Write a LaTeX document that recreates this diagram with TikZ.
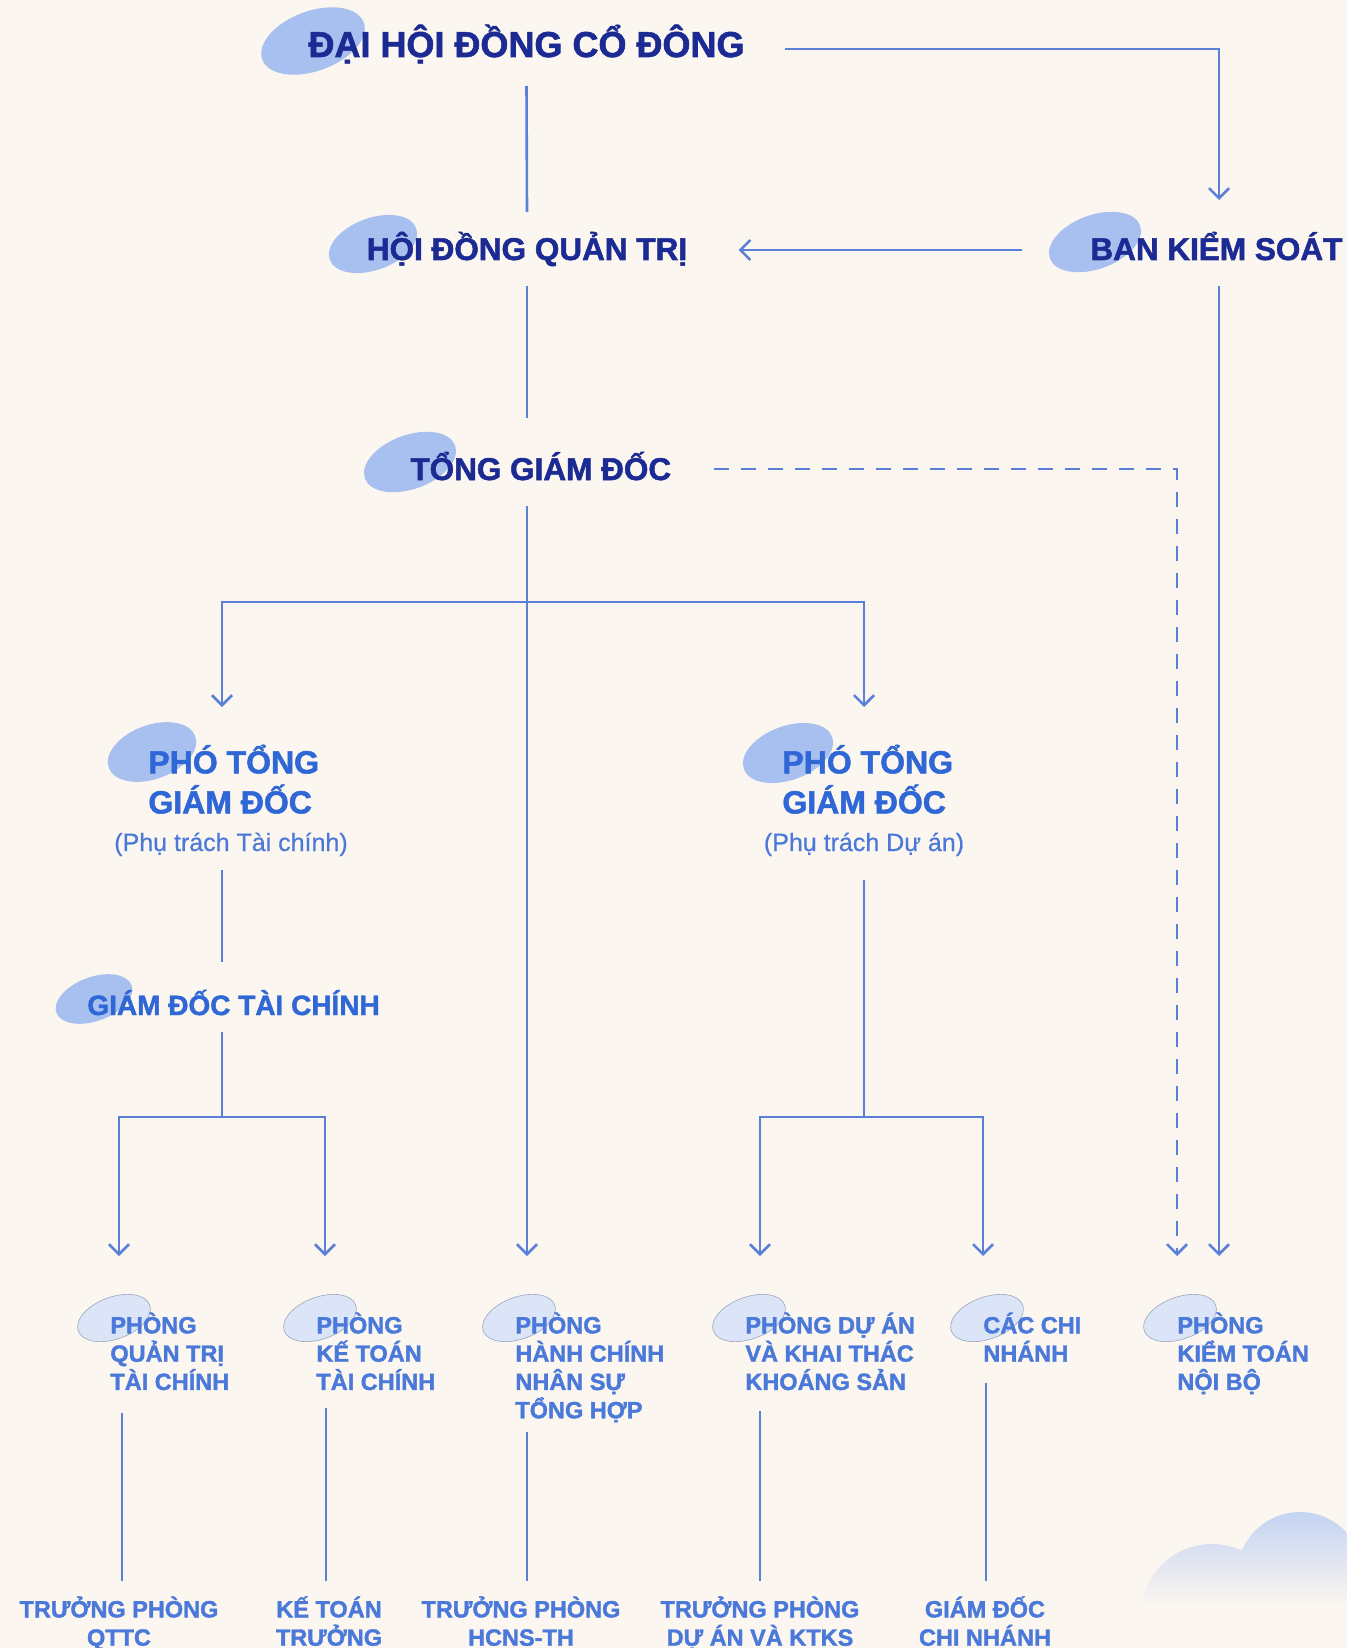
\documentclass[tikz,border=0pt]{standalone}
\usepackage{fontspec}
\setmainfont{Liberation Sans}[UprightFeatures={FakeBold=0.5},BoldFeatures={FakeBold=1.6}]
\usetikzlibrary{arrows.meta,calc}
\definecolor{bg}{HTML}{FCF6F0}
\definecolor{navy}{HTML}{1B2B93}
\definecolor{blueA}{HTML}{2F67D6}
\definecolor{blueB}{HTML}{4A79DA}
\definecolor{lnc}{HTML}{5B80DA}
\definecolor{blobA}{HTML}{A8C0EF}
\definecolor{blobB}{HTML}{DCE5F7}
\definecolor{blobE}{HTML}{9AA6BD}
\definecolor{cloudc}{HTML}{C2D2F3}
\newcommand\topstrut{\rule{0pt}{1.05em}}
\begin{document}
\begin{tikzpicture}[x=0.5pt,y=-0.5pt,
  conn/.style={draw=lnc,line width=1.3pt},
  arr/.style={-{Straight Barb[length=5pt,width=10pt]}},
  dsh/.style={dash pattern=on 7.5pt off 6pt},
  txt/.style={inner sep=0pt},
  ttl/.style={txt,text=navy,font=\fontsize{18}{22}\selectfont\bfseries},
  lvl/.style={txt,text=navy,font=\fontsize{15.75}{19}\selectfont\bfseries},
  vp/.style={txt,text=blueA,align=left,font=\fontsize{16}{20}\selectfont\bfseries},
  note/.style={txt,text=blueB,font=\fontsize{12.5}{15}\selectfont},
  cfo/.style={txt,text=blueA,font=\fontsize{14}{17}\selectfont\bfseries},
  dept/.style={txt,text=blueB,align=left,font=\fontsize{11.75}{14.15}\selectfont\bfseries},
  head/.style={txt,text=blueB,align=center,font=\fontsize{11.75}{14.15}\selectfont\bfseries},
  blobbig/.style={fill=blobA},
  blobsm/.style={fill=blobB,draw=blobE,line width=0.3pt},
]
\useasboundingbox (0,0) rectangle (1347,1648);
\clip (0,0) rectangle (1347,1648);
\fill[bg] (0,0) rectangle (1347,1648);

% cloud
\begin{scope}
\clip (1212,1615) circle (71) (1300,1575) circle (63);
\shade[top color=cloudc, bottom color=bg] (1130,1508) rectangle (1347,1608);
\end{scope}

% blobs
\fill[blobbig,rotate around={20:(313,41)}] (313,41) ellipse [x radius=54, y radius=30];
\fill[blobbig,rotate around={20:(373,244)}] (373,244) ellipse [x radius=46, y radius=26];
\fill[blobbig,rotate around={20:(1095,242)}] (1095,242) ellipse [x radius=48, y radius=27];
\fill[blobbig,rotate around={20:(410,462)}] (410,462) ellipse [x radius=48, y radius=27];
\fill[blobbig,rotate around={20:(152,752)}] (152,752) ellipse [x radius=46, y radius=27];
\fill[blobbig,rotate around={20:(788,753)}] (788,753) ellipse [x radius=47, y radius=27];
\fill[blobbig,rotate around={20:(94,999)}] (94,999) ellipse [x radius=40, y radius=22];
\foreach \bx in {114,320,519,749,987,1180}
  \filldraw[blobsm,rotate around={20:(\bx,1318)}] (\bx,1318) ellipse [x radius=38, y radius=21];

% texts
\node[ttl,anchor=base] (dhd) at (526.5,57) {ĐẠI HỘI ĐỒNG CỔ ĐÔNG};
\node[lvl,anchor=base] (hdqt) at (527,260) {HỘI ĐỒNG QUẢN TRỊ};
\node[lvl,anchor=base west] (bks) at (1090,260) {BAN KIỂM SOÁT};
\node[lvl,anchor=base west] (tgd) at (410,480) {TỔNG GIÁM ĐỐC};
\node[vp,anchor=north west] (p1) at (148,739.4) {\topstrut PHÓ TỔNG\\GIÁM ĐỐC};
\node[note,anchor=base] (n1) at (231,851) {(Phụ trách Tài chính)};
\node[vp,anchor=north west] (p2) at (782,739.4) {\topstrut PHÓ TỔNG\\GIÁM ĐỐC};
\node[note,anchor=base] (n2) at (864,851) {(Phụ trách Dự án)};
\node[cfo,anchor=base west] (gdtc) at (87,1015) {GIÁM ĐỐC TÀI CHÍNH};

\node[dept,anchor=north west] (qttc) at (110,1308.3) {\topstrut PHÒNG\\QUẢN TRỊ\\TÀI CHÍNH};
\node[dept,anchor=north west] (kttc) at (316,1308.3) {\topstrut PHÒNG\\KẾ TOÁN\\TÀI CHÍNH};
\node[dept,anchor=north west] (hcns) at (515,1308.3) {\topstrut PHÒNG\\HÀNH CHÍNH\\NHÂN SỰ\\TỔNG HỢP};
\node[dept,anchor=north west] (da) at (745,1308.3) {\topstrut PHÒNG DỰ ÁN\\VÀ KHAI THÁC\\KHOÁNG SẢN};
\node[dept,anchor=north west] (cn) at (983,1308.3) {\topstrut CÁC CHI\\NHÁNH};
\node[dept,anchor=north west] (ktnb) at (1177,1308.3) {\topstrut PHÒNG\\KIỂM TOÁN\\NỘI BỘ};

\node[head,anchor=north] (h1) at (119,1592.3) {\topstrut TRƯỞNG PHÒNG\\QTTC};
\node[head,anchor=north] (h2) at (329,1592.3) {\topstrut KẾ TOÁN\\TRƯỞNG};
\node[head,anchor=north] (h3) at (521,1592.3) {\topstrut TRƯỞNG PHÒNG\\HCNS-TH};
\node[head,anchor=north] (h4) at (760,1592.3) {\topstrut TRƯỞNG PHÒNG\\DỰ ÁN VÀ KTKS};
\node[head,anchor=north] (h5) at (985,1592.3) {\topstrut GIÁM ĐỐC\\CHI NHÁNH};

% connectors
\draw[conn] ($(dhd.base)+(0,29)$) -- ($(hdqt.base)+(0,-48)$);
\draw[conn,arr] ($(dhd.base east)+(40,-8)$) -| ($(bks.base west)+(129,-60)$);
\draw[conn,arr] ($(bks.base west)+(-68,-10)$) -- ($(hdqt.base east)+(51,-10)$);
\draw[conn] ($(hdqt.base)+(0,26)$) -- ($(hdqt.base |- tgd.base)+(0,-62)$);
\draw[conn,dsh,arr] ($(tgd.base east)+(42,-11)$) -| ($(ktnb.north west)+(0,-52.3)$);
\draw[conn,arr] ($(bks.base west)+(129,26)$) -- ($(ktnb.north west)+(42,-52.3)$);
\draw[conn,arr] ($(hdqt.base |- tgd.base)+(0,26)$) -- ($(hcns.north west)+(12,-52.3)$);
\coordinate (br1) at ($(hdqt.base |- tgd.base)+(0,122)$);
\draw[conn,arr] (br1) -| ($(p1.north west)+(74,-32.4)$);
\draw[conn,arr] (br1) -| ($(p2.north west)+(82,-32.4)$);
\draw[conn] ($(n1.base)+(-9,19)$) -- ($(gdtc.base west)+(135,-53)$);
\coordinate (br2) at ($(gdtc.base west)+(135,102)$);
\draw[conn] ($(gdtc.base west)+(135,17)$) -- (br2);
\draw[conn,arr] (br2) -| ($(qttc.north west)+(9,-52.3)$);
\draw[conn,arr] (br2) -| ($(kttc.north west)+(9,-52.3)$);
\coordinate (br3) at ($(n2.base)+(0,266)$);
\draw[conn] ($(n2.base)+(0,29)$) -- (br3);
\draw[conn,arr] (br3) -| ($(da.north west)+(15,-52.3)$);
\draw[conn,arr] (br3) -| ($(cn.north west)+(0,-52.3)$);
\draw[conn] ($(qttc.north west)+(12,104.7)$) -- ($(h1.north)+(3,-11.3)$);
\draw[conn] ($(kttc.north west)+(10,99.7)$) -- ($(h2.north)+(-3,-11.3)$);
\draw[conn] ($(hcns.north west)+(12,123.7)$) -- ($(h3.north)+(6,-11.3)$);
\draw[conn] ($(da.north west)+(15,102.7)$) -- ($(h4.north)+(0,-11.3)$);
\draw[conn] ($(cn.north west)+(3,74.7)$) -- ($(h5.north)+(1,-11.3)$);
\end{tikzpicture}
\end{document}
